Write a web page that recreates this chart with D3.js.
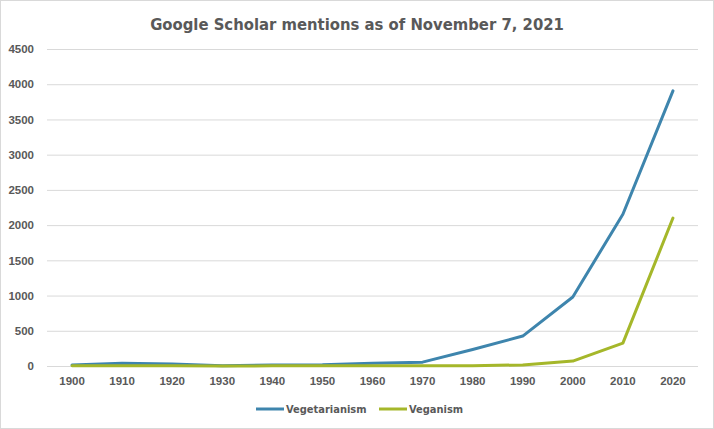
<!DOCTYPE html>
<html>
<head>
<meta charset="utf-8">
<script src="https://cdn.jsdelivr.net/npm/d3@7"></script>
<style>
  html, body { margin: 0; padding: 0; background: #fff; }
  svg { display: block; font-family: "DejaVu Sans Condensed", "DejaVu Sans", sans-serif; }
</style>
</head>
<body>
<svg id="chart" width="714" height="429"></svg>
<script>
// decades on the category axis
const years = ['1900', '1910', '1920', '1930', '1940', '1950', '1960',
  '1970', '1980', '1990', '2000', '2010', '2020']

// mentions
const vegetarianism = [15, 40, 30, 3, 15, 18, 40, 55, 235, 425, 980, 2155, 3905]
const veganism = [2, 3, 3, 1, 2, 2, 3, 3, 5, 15, 70, 325, 2100]

const yTicks = [0, 500, 1000, 1500, 2000, 2500, 3000, 3500, 4000, 4500]

const seriesNames = ['Vegetarianism', 'Veganism']
const seriesColors = ['#3e85ad', '#a5b72a']

const width = 714
const height = 429
const margin = { top: 49, right: 16, bottom: 63, left: 47 }

const svg = d3.select('#chart')

// outer chart border
svg.append('rect')
  .attr('x', 0.5).attr('y', 0.5)
  .attr('width', width - 1).attr('height', height - 1)
  .attr('fill', '#fff')
  .attr('stroke', '#d9d9d9')

const x = d3.scaleBand()
  .domain(years)
  .range([margin.left, width - margin.right])

const y = d3.scaleLinear()
  .domain([0, 4500])
  .range([height - margin.bottom, margin.top])

// horizontal gridlines
svg.append('g')
  .selectAll('line')
  .data(yTicks)
  .join('line')
  .attr('x1', margin.left)
  .attr('x2', width - margin.right)
  .attr('y1', d => y(d) + 0.5)
  .attr('y2', d => y(d) + 0.5)
  .attr('stroke', '#d9d9d9')
  .attr('stroke-width', 1)

// y axis labels
const yAxis = svg.append('g')
  .attr('transform', `translate(${margin.left - 13},0)`)
  .call(d3.axisLeft(y).tickValues(yTicks).tickFormat(d3.format('d')).tickSize(0).tickPadding(0))
yAxis.select('.domain').remove()
yAxis.selectAll('text')
  .attr('fill', '#595959')
  .style('font-size', '11.5px')
  .style('font-weight', 'bold')

// x axis labels
const xAxis = svg.append('g')
  .attr('transform', `translate(0,${height - margin.bottom})`)
  .call(d3.axisBottom(x).tickSize(0).tickPadding(11))
xAxis.select('.domain').remove()
xAxis.selectAll('text')
  .attr('fill', '#595959')
  .style('font-size', '11.5px')
  .style('font-weight', 'bold')

const line = d3.line()
  .x((d, i) => x(years[i]) + x.bandwidth() / 2)
  .y(d => y(d))

const series = [vegetarianism, veganism]

svg.append('g')
  .selectAll('path')
  .data(series)
  .join('path')
  .attr('d', d => line(d))
  .attr('fill', 'none')
  .attr('stroke', (d, i) => seriesColors[i])
  .attr('stroke-width', 3)
  .attr('stroke-linejoin', 'round')
  .attr('stroke-linecap', 'round')

// title
svg.append('text')
  .attr('x', width / 2)
  .attr('y', 30)
  .attr('text-anchor', 'middle')
  .attr('fill', '#595959')
  .style('font-size', '16.5px')
  .style('font-weight', 'bold')
  .text('Google Scholar mentions as of November 7, 2021')

// legend
const legendX = [256, 379]
const legend = svg.append('g')
  .selectAll('g')
  .data(seriesNames)
  .join('g')
  .attr('transform', (d, i) => `translate(${legendX[i]},409)`)

legend.append('line')
  .attr('x1', 0).attr('x2', 28)
  .attr('y1', 0).attr('y2', 0)
  .attr('stroke', (d, i) => seriesColors[i])
  .attr('stroke-width', 3)

legend.append('text')
  .attr('x', 30)
  .attr('y', 4)
  .attr('fill', '#595959')
  .style('font-size', '11px')
  .style('font-weight', 'bold')
  .text(d => d)
</script>
</body>
</html>
